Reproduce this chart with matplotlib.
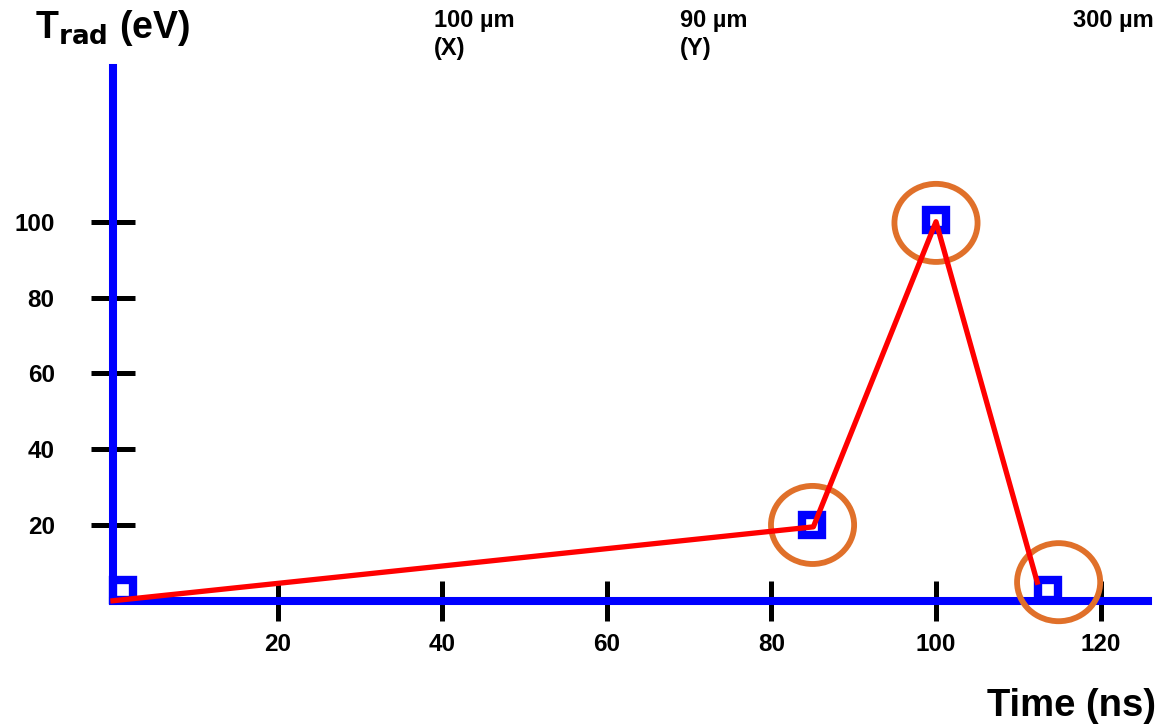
import matplotlib
matplotlib.use("Agg")
import matplotlib.pyplot as plt
from matplotlib.patches import Ellipse

plt.rcParams['font.family'] = ['Liberation Sans', 'DejaVu Sans']
plt.rcParams['font.weight'] = 'bold'

# red trace
line_t = [0, 85.1, 100, 112.3]
line_T = [0, 19.5, 100, 4.9]
# blue hollow squares
square_t = [1.2, 84.9, 100, 113.6]
square_T = [2.8, 20.0, 100.5, 2.8]
# orange rings
circle_t = [85.0, 100.0, 114.9]
circle_T = [20.0, 99.7, 4.9]

x_ticks = [20, 40, 60, 80, 100, 120]
y_ticks = [20, 40, 60, 80, 100]
top_labels = ["100 \u00b5m\n(X)", "90 \u00b5m\n(Y)", "300 \u00b5m"]
top_label_x = [434, 680, 1073]  # pixels

W, H = 1165, 728
fig = plt.figure(figsize=(W / 100, H / 100), dpi=100)
ax = fig.add_axes([113 / W, (H - 600.75) / H, (1148 - 113) / W, (600.75 - 68) / H])
ax.set_xlim(0, (1148 - 113) / 8.23)
ax.set_ylim(0, (600.75 - 68) / 3.79)

for side in ['top', 'right']:
    ax.spines[side].set_visible(False)
for side in ['left', 'bottom']:
    ax.spines[side].set_color('#0000FF')
    ax.spines[side].set_linewidth(5.8)
    ax.spines[side].set_capstyle('projecting')

ax.set_xticks(x_ticks)
ax.set_yticks(y_ticks)
ax.tick_params(axis='x', direction='inout', length=29, width=3.6, color='black',
               pad=9, labelsize=17.5)
ax.tick_params(axis='y', direction='inout', length=32, width=3.6, color='black',
               pad=26, labelsize=17.5)
for lab in ax.get_xticklabels() + ax.get_yticklabels():
    lab.set_fontweight('bold')

ax.plot(square_t, square_T, linestyle='none', marker='s', markersize=15,
        markerfacecolor='white', markeredgecolor='#0000FF', markeredgewidth=6,
        zorder=3, clip_on=False)
for t, T in zip(circle_t, circle_T):
    ax.add_patch(Ellipse((t, T), 10.1, 20.6, fill=False, edgecolor='#E0702A',
                         linewidth=4.2, zorder=4, clip_on=False))
ax.plot(line_t, line_T, color='#FF0000', linewidth=3.8, zorder=5, clip_on=False)

fig.text(35 / W, 1 - 38 / H, r"T$_{\mathbf{rad}}$ (eV)", fontsize=27,
         fontweight='bold', ha='left', va='baseline')
fig.text(1156 / W, 1 - 716 / H, "Time (ns)", fontsize=27.5, fontweight='bold',
         ha='right', va='baseline')
for lab, px in zip(top_labels, top_label_x):
    fig.text(px / W, 1 - 9 / H, lab, fontsize=17, fontweight='bold',
             ha='left', va='top', linespacing=1.3)

fig.savefig("out.png", dpi=100)
